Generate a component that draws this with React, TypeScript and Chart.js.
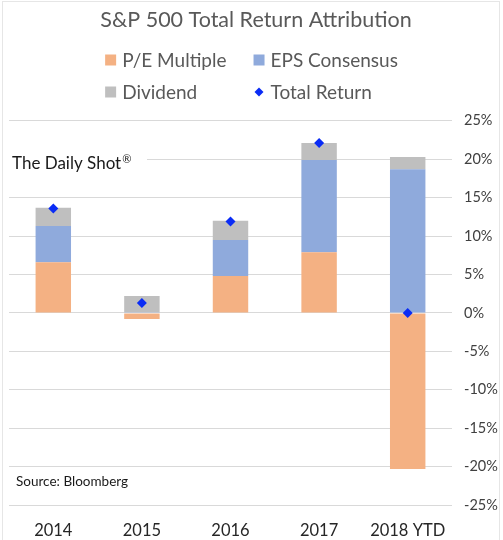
import { useEffect, useRef } from "react"
import { Chart, registerables } from "chart.js"

Chart.register(...registerables)

const categories = ["2014", "2015", "2016", "2017", "2018 YTD"]
const peMultiple = [6.6, -0.8, 4.8, 7.9, -20.3]
const epsConsensus = [4.7, 0.1, 4.7, 12.0, 18.7]
const dividend = [2.4, 2.1, 2.5, 2.2, 1.6]
const totalReturn = [13.6, 1.3, 11.9, 22.1, 0]
const yTicks = [-25, -20, -15, -10, -5, 0, 5, 10, 15, 20, 25]

const FONT = "Lato, 'Open Sans', sans-serif"

// legend in a 2x2 grid + the two free-floating notes
const notesPlugin = {
  id: "notes",
  afterDraw(chart: Chart) {
    const ctx = chart.ctx
    const items = chart.data.datasets.map((ds: any) => ({
      label: ds.label as string,
      color: ds.backgroundColor as string,
      diamond: ds.type === "line",
    }))
    ctx.save()
    ctx.font = `19px ${FONT}`
    ctx.textBaseline = "middle"
    ctx.textAlign = "left"
    const box = 11
    const gap = 6
    const colGap = 27
    const w = (s: string) => box + gap + ctx.measureText(s).width
    const col1 = Math.max(w(items[0].label), w(items[2].label))
    const col2 = Math.max(w(items[1].label), w(items[3].label))
    const startX = (chart.width - (col1 + colGap + col2)) / 2
    const rows = [60, 92]
    items.forEach((it, i) => {
      const x = i % 2 === 0 ? startX : startX + col1 + colGap
      const y = rows[Math.floor(i / 2)]
      ctx.fillStyle = it.color
      if (it.diamond) {
        const cx = x + box / 2
        ctx.beginPath()
        ctx.moveTo(cx, y - 4.5)
        ctx.lineTo(cx + 4.5, y)
        ctx.lineTo(cx, y + 4.5)
        ctx.lineTo(cx - 4.5, y)
        ctx.closePath()
        ctx.fill()
      } else {
        ctx.fillRect(x, y - box / 2, box, box)
      }
      ctx.fillStyle = "#595959"
      ctx.fillText(it.label, x + box + gap, y + 1)
    })

    // watermark sits in a white text box that hides the gridline behind it
    ctx.fillStyle = "#ffffff"
    ctx.fillRect(chart.chartArea.left - 2, 150, 140, 28)
    ctx.fillStyle = "#1a1a1a"
    ctx.font = `17px ${FONT}`
    const brand = "The Daily Shot"
    ctx.fillText(brand, 12, 164)
    const bw = ctx.measureText(brand).width
    ctx.font = `11px ${FONT}`
    ctx.fillText("®", 12 + bw + 1, 159)
    ctx.font = `13.5px ${FONT}`
    ctx.fillText("Source: Bloomberg", 16, 482)
    ctx.restore()
  },
}

export default function App() {
  const chartRef = useRef<HTMLCanvasElement>(null)
  const chartInstance = useRef<Chart | null>(null)

  useEffect(() => {
    if (!chartRef.current) return
    const ctx = chartRef.current.getContext("2d")
    if (!ctx) return

    if (chartInstance.current) {
      chartInstance.current.destroy()
    }

    chartInstance.current = new Chart(ctx, {
      type: "bar",
      data: {
        labels: categories,
        datasets: [
          {
            label: "P/E Multiple",
            data: peMultiple,
            backgroundColor: "#F4B183",
            order: 1,
          },
          {
            label: "EPS Consensus",
            data: epsConsensus,
            backgroundColor: "#8FAADC",
            order: 1,
          },
          {
            label: "Dividend",
            data: dividend,
            backgroundColor: "#BFBFBF",
            order: 1,
          },
          {
            type: "line",
            label: "Total Return",
            data: totalReturn,
            backgroundColor: "#0a2cf5",
            borderColor: "#0a2cf5",
            showLine: false,
            pointStyle: "rectRot",
            pointRadius: 5,
            pointBorderWidth: 0,
            stack: "total",
            order: 0,
          } as any,
        ],
      },
      options: {
        responsive: true,
        maintainAspectRatio: false,
        animation: false,
        layout: {
          padding: { left: 9, right: 0, bottom: 0 },
        },
        datasets: {
          bar: {
            categoryPercentage: 1,
            barPercentage: 0.4,
          },
        },
        plugins: {
          legend: { display: false },
          tooltip: { enabled: false },
          title: {
            display: true,
            text: "S&P 500 Total Return Attribution",
            color: "#595959",
            font: { family: FONT, size: 21.5, weight: "normal" },
            padding: { top: 7, bottom: 88 },
          },
        },
        scales: {
          x: {
            stacked: true,
            grid: { display: false },
            border: { display: false },
            ticks: {
              color: "#262626",
              font: { family: FONT, size: 16.5 },
              padding: 8,
            },
            afterFit(scale: any) {
              scale.height = 35
            },
          },
          y: {
            stacked: true,
            position: "right",
            min: -25,
            max: 25,
            afterBuildTicks(scale: any) {
              scale.ticks = yTicks.map((v) => ({ value: v }))
            },
            ticks: {
              color: "#404040",
              font: { family: FONT, size: 14.5 },
              padding: 12,
              callback: (v: any) => `${v}%`,
            },
            grid: {
              color: "#d9d9d9",
              drawTicks: false,
            },
            border: { display: false },
            afterFit(scale: any) {
              scale.width = 51
            },
          },
        },
      },
      plugins: [notesPlugin],
    })

    return () => {
      if (chartInstance.current) {
        chartInstance.current.destroy()
        chartInstance.current = null
      }
    }
  }, [])

  return (
    <div
      style={{
        position: "absolute",
        left: 0,
        top: 0,
        width: 503,
        height: 540,
        overflow: "hidden",
        background: "#fff",
      }}
    >
      <div
        style={{
          position: "absolute",
          left: 2,
          top: 1,
          width: 496,
          height: 560,
          border: "1px solid #e6e6e6",
          pointerEvents: "none",
        }}
      />
      <canvas ref={chartRef} />
    </div>
  )
}
